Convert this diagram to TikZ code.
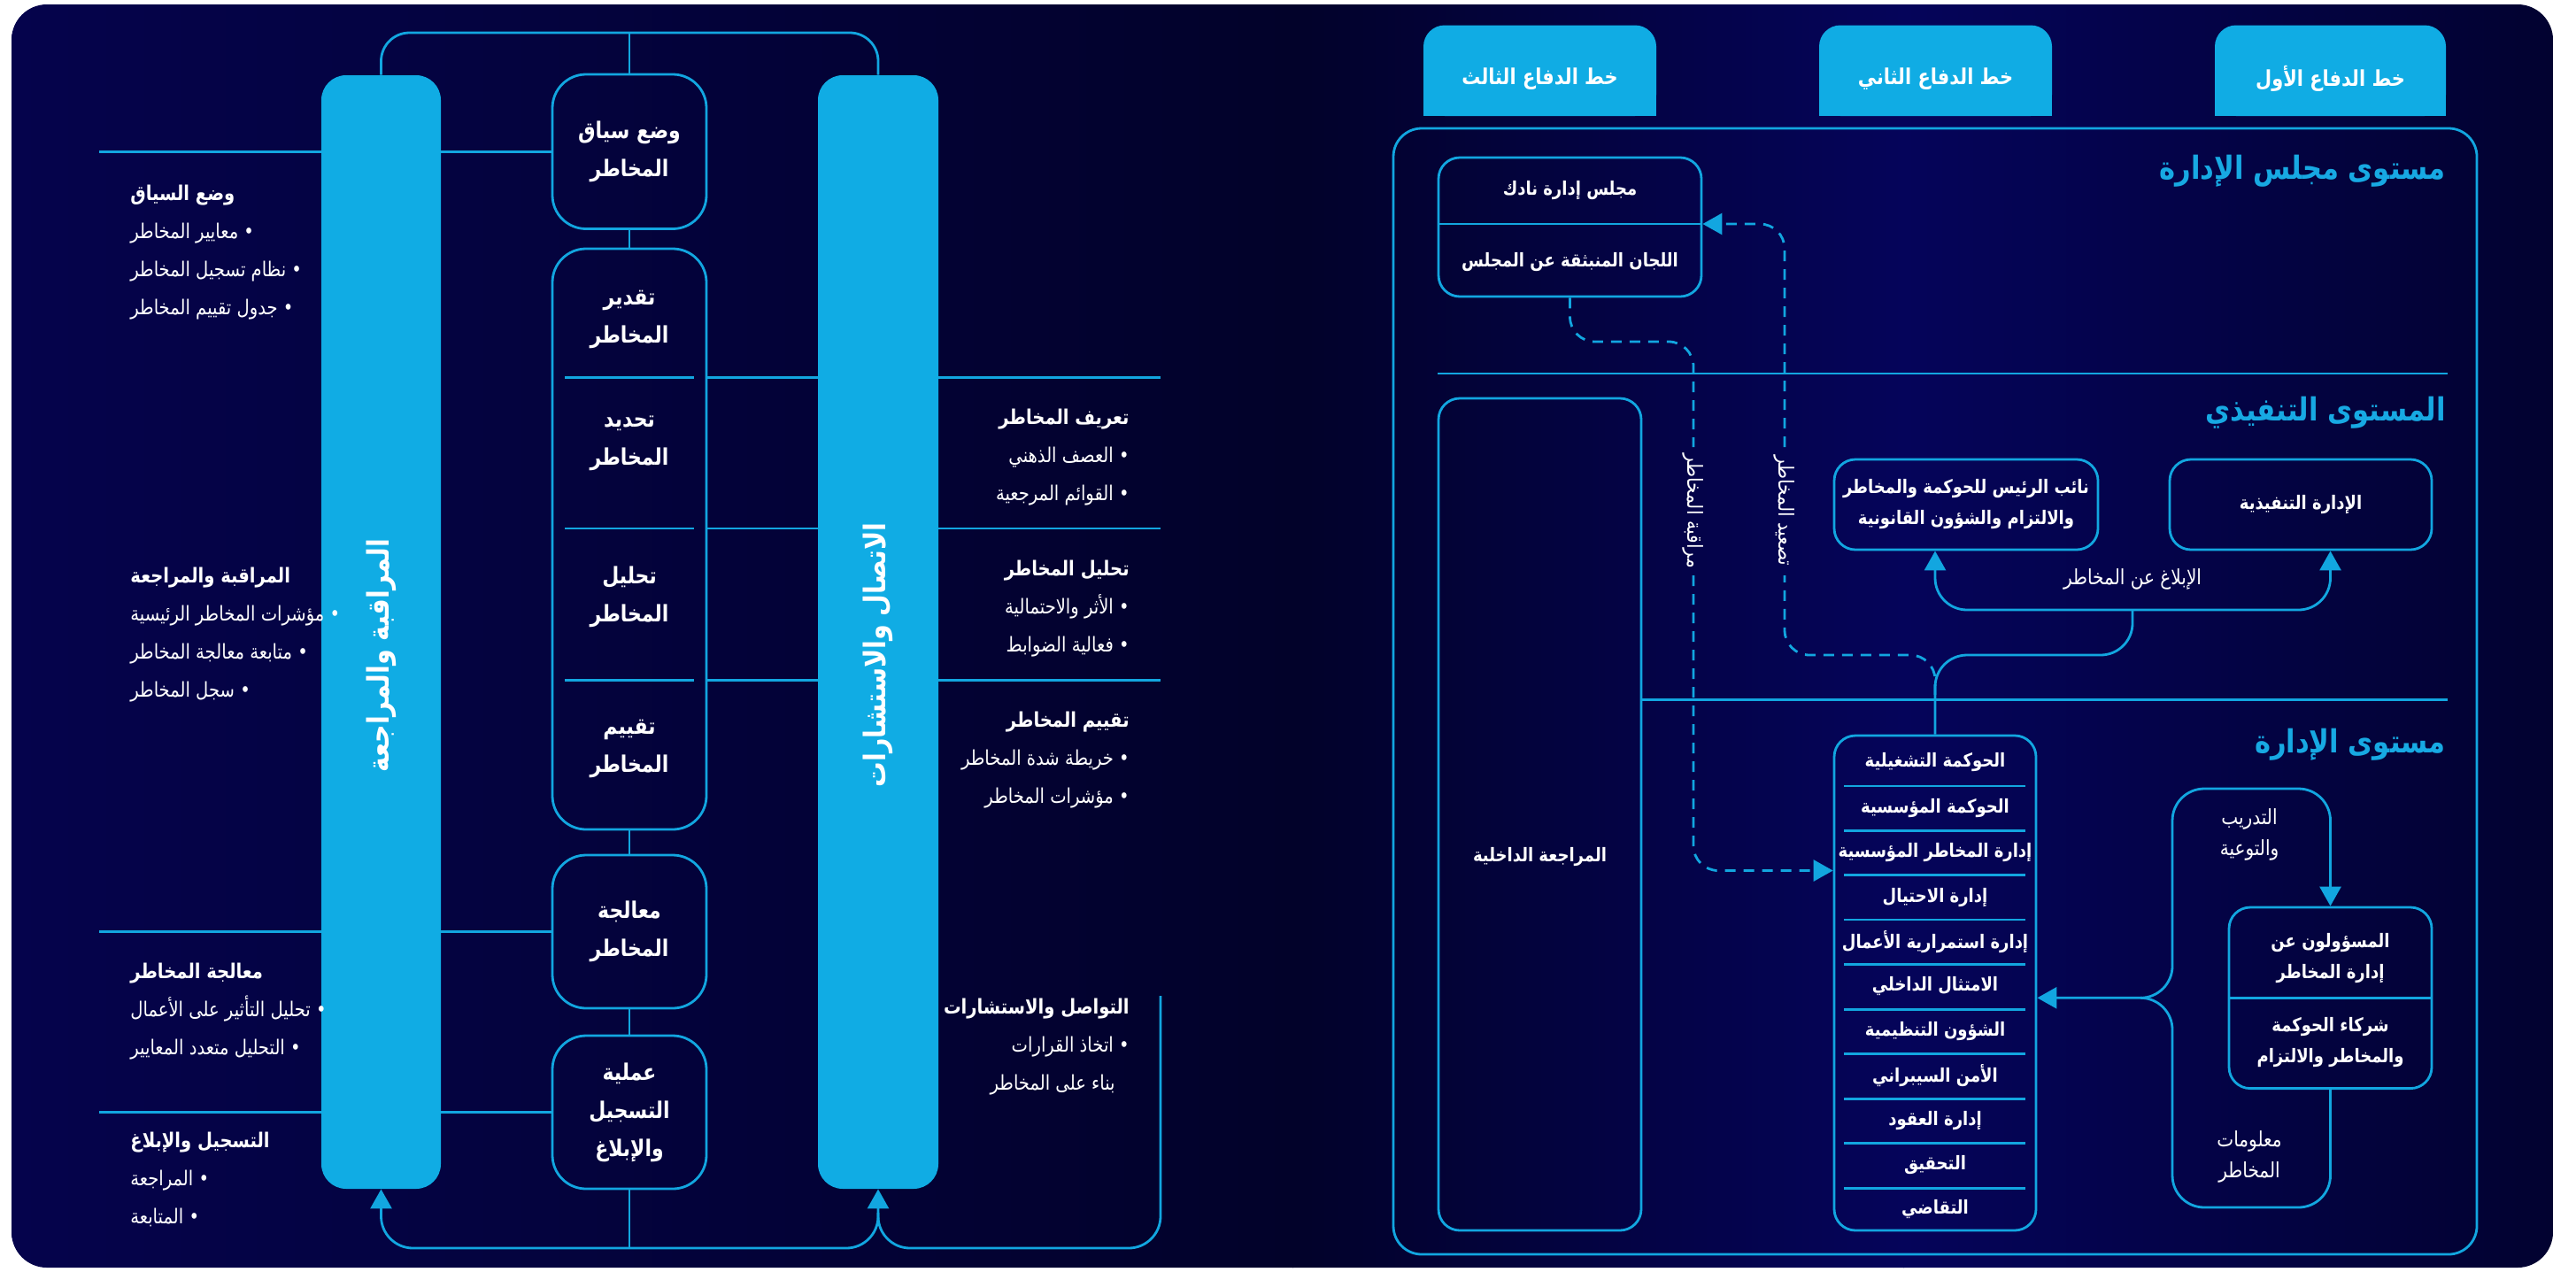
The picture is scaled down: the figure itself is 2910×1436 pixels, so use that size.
\documentclass[tikz,border=0pt]{standalone}
\usepackage{fontspec}
\usetikzlibrary{arrows.meta}
\newfontfamily\arabicfont[Script=Arabic,FakeStretch=0.85]{DejaVu Sans}
\TeXXeTstate=1
\newcommand{\AR}[1]{\beginR#1\endR}
\definecolor{lc}{HTML}{12A6E0}
\definecolor{barc}{HTML}{10ACE4}
\definecolor{ttl}{HTML}{17A9E3}
\definecolor{bgA}{HTML}{05034C}
\definecolor{bgB}{HTML}{02022A}
\definecolor{bgC}{HTML}{05045A}
\definecolor{bgD}{HTML}{020230}
\begin{document}
\begin{tikzpicture}[x=0.5pt,y=-0.5pt,
  conn/.style={draw=lc, line width=1.4pt},
  tipA/.style={-{Triangle[length=11pt,width=12pt]}},
  tipB/.style={{Triangle[length=11pt,width=12pt]}-{Triangle[length=11pt,width=12pt]}},
  dconn/.style={conn, dash pattern=on 6pt off 4.5pt},
  pbox/.style={draw=lc, line width=1.4pt, rounded corners=19pt, inner sep=0pt, text=white,
     font=\arabicfont\bfseries\fontsize{12.9}{21.5}\selectfont, align=center},
  ptxt/.style={text=white, font=\arabicfont\bfseries\fontsize{12.9}{21.5}\selectfont, align=center, inner sep=0pt},
  bar/.style={fill=barc, rounded corners=14pt, inner sep=0pt},
  bartxt/.style={text=white, font=\arabicfont\bfseries\fontsize{16.8}{20}\selectfont, rotate=90, inner sep=0pt},
  note/.style={text=white, font=\arabicfont\fontsize{11.5}{21.5}\selectfont, inner sep=0pt},
  noteL/.style={note, anchor=west, align=left},
  noteR/.style={note, anchor=east, align=right},
  hdr/.style={fill=barc, rounded corners=12pt, inner sep=0pt},
  hdrtxt/.style={text=white, font=\arabicfont\bfseries\fontsize{12.3}{15}\selectfont, inner sep=0pt},
  lvl/.style={text=ttl, font=\arabicfont\bfseries\fontsize{18}{20}\selectfont, anchor=east, inner sep=0pt},
  rbox/.style={draw=lc, line width=1.4pt, rounded corners=12pt, inner sep=0pt},
  itxt/.style={text=white, font=\arabicfont\bfseries\fontsize{10.6}{17.5}\selectfont, align=center, inner sep=0pt},
  rtxt/.style={text=white, font=\arabicfont\fontsize{11.8}{17.5}\selectfont, align=center, inner sep=0pt},
]
\useasboundingbox (0,0) rectangle (2910,1436);
\fill[white] (0,0) rectangle (2910,1436);
\begin{scope}
\clip[rounded corners=20pt] (13,5) rectangle (2884,1432);
\shade[left color=bgA, right color=bgB] (13,5) rectangle (1461,1432);
\shade[left color=bgB, right color=bgC] (1460,5) rectangle (2151,1432);
\shade[left color=bgC, right color=bgD] (2150,5) rectangle (2884,1432);
\end{scope}

% ================= LEFT HALF =================
\node[pbox, minimum width=87pt, minimum height=87.25pt] (b1) at (711,171.25) {\AR{وضع سياق}\\\AR{المخاطر}};
\node[pbox, minimum width=87pt, minimum height=328pt] (b2) at (711,609) {};
\node[pbox, minimum width=87pt, minimum height=86.5pt] (b3) at (711,1052.5) {\AR{معالجة}\\\AR{المخاطر}};
\node[pbox, minimum width=87pt, minimum height=86.5pt] (b4) at (711,1256.5) {\AR{عملية}\\\AR{التسجيل}\\\AR{والإبلاغ}};
\node[ptxt] (s1) at (711,360.5) {\AR{تقدير}\\\AR{المخاطر}};
\node[ptxt] (s2) at (711,500.5) {\AR{تحديد}\\\AR{المخاطر}};
\node[ptxt] (s3) at (711,674) {\AR{تحليل}\\\AR{المخاطر}};
\node[ptxt] (s4) at (711,846) {\AR{تقييم}\\\AR{المخاطر}};
\foreach \yy in {426.5,597,768.5} \draw[conn] (638,\yy) -- (784,\yy);

\coordinate (l1) at (112,171.25);
\coordinate (l2) at (112,1052.5);
\coordinate (l3) at (112,1256.5);
\draw[conn] (l1) -- (b1.west);
\draw[conn] (l2) -- (b3.west);
\draw[conn] (l3) -- (b4.west);
\coordinate (r1) at (1311,426.5);
\coordinate (r2) at (1311,597);
\coordinate (r3) at (1311,768.5);
\draw[conn] (b2.east |- r1) -- (r1);
\draw[conn] (b2.east |- r2) -- (r2);
\draw[conn] (b2.east |- r3) -- (r3);

\node[bar, minimum width=67.5pt, minimum height=629pt] (lbar) at (430.5,714) {};
\node[bar, minimum width=68pt, minimum height=629pt] (rbar) at (992,714) {};
\node[bartxt] (lbt) at (431,741) {\AR{المراقبة والمراجعة}};
\node[bartxt] (rbt) at (992,740) {\AR{الاتصال والاستشارات}};

\coordinate (topc) at (711,37);
\coordinate (bot) at (711,1410);
\coordinate (rv) at (1311,1125);
\draw[conn, rounded corners=16pt] (lbar.north) |- (topc) -| (rbar.north);
\draw[conn] (b1.north) -- (topc);
\draw[conn] (b1.south) -- (b2.north);
\draw[conn] (b2.south) -- (b3.north);
\draw[conn] (b3.south) -- (b4.north);
\draw[conn] (b4.south) -- (bot);
\draw[conn, rounded corners=18pt, tipB] (lbar.south) |- (bot) -| (rbar.south);
\draw[conn, rounded corners=18pt] (rv) |- (rbar.south |- bot) -- ++(0,-40);

\node[noteL] (n1) at (147,285.5) {{\bfseries\AR{وضع السياق}}\\\AR{• معايير المخاطر}\\\AR{• نظام تسجيل المخاطر}\\\AR{• جدول تقييم المخاطر}};
\node[noteL] (n2) at (147,717.5) {{\bfseries\AR{المراقبة والمراجعة}}\\\AR{• مؤشرات المخاطر الرئيسية}\\\AR{• متابعة معالجة المخاطر}\\\AR{• سجل المخاطر}};
\node[noteL] (n3) at (147,1143) {{\bfseries\AR{معالجة المخاطر}}\\\AR{• تحليل التأثير على الأعمال}\\\AR{• التحليل متعدد المعايير}};
\node[noteL] (n4) at (147,1332) {{\bfseries\AR{التسجيل والإبلاغ}}\\\AR{• المراجعة}\\\AR{• المتابعة}};
\node[noteR] (m1) at (1276,516.5) {{\bfseries\AR{تعريف المخاطر}}\\\AR{• العصف الذهني}\\\AR{• القوائم المرجعية}};
\node[noteR] (m2) at (1276,688) {{\bfseries\AR{تحليل المخاطر}}\\\AR{• الأثر والاحتمالية}\\\AR{• فعالية الضوابط}};
\node[noteR] (m3) at (1276,858.5) {{\bfseries\AR{تقييم المخاطر}}\\\AR{• خريطة شدة المخاطر}\\\AR{• مؤشرات المخاطر}};
\node[noteR] (m4) at (1276,1182.5) {{\bfseries\AR{التواصل والاستشارات}}\\\AR{• اتخاذ القرارات}\\\AR{\hspace*{8pt}بناء على المخاطر}};

% ================= RIGHT HALF =================
\fill[barc] (1608,80) rectangle (1871,131);
\fill[barc] (2055,80) rectangle (2318,131);
\fill[barc] (2502,80) rectangle (2763,131);
\node[hdr, minimum width=131.5pt, minimum height=51.25pt] (h1) at (1739.5,79.75) {};
\node[hdr, minimum width=131.5pt, minimum height=51.25pt] (h2) at (2186.5,79.75) {};
\node[hdr, minimum width=130.5pt, minimum height=51.25pt] (h3) at (2632.5,79.75) {};
\node[hdrtxt] (h1t) at (1739.5,89) {\AR{خط الدفاع الثالث}};
\node[hdrtxt] (h2t) at (2186.5,89) {\AR{خط الدفاع الثاني}};
\node[hdrtxt] (h3t) at (2632.5,89) {\AR{خط الدفاع الأول}};

\node[rbox, rounded corners=16pt, minimum width=612pt, minimum height=636pt] (frame) at (2186,781) {};
\node[lvl] (lv1) at (2763,193) {\AR{مستوى مجلس الإدارة}};
\node[lvl] (lv2) at (2763,466) {\AR{المستوى التنفيذي}};
\node[lvl] (lv3) at (2763,841) {\AR{مستوى الإدارة}};

\node[rbox, minimum width=148.5pt, minimum height=78.5pt] (board) at (1773.5,256.5) {};
\draw[conn] (1625,253) -- (1922,253);
\node[itxt] (bt1) at (1773.5,215) {\AR{مجلس إدارة نادك}};
\node[itxt] (bt2) at (1773.5,296) {\AR{اللجان المنبثقة عن المجلس}};

\draw[conn] (1624,422) -- (2765,422);

\node[rbox, minimum width=114.5pt, minimum height=470pt] (audit) at (1739.5,920) {};
\node[itxt] (audt) at (1739.5,968) {\AR{المراجعة الداخلية}};
\draw[conn] (audit.east |- 0,790.6) -- (2765,790.6);

\node[rbox, minimum width=149pt, minimum height=51pt] (vp) at (2221,570) {};
\node[itxt] (vpt) at (2221,570) {\AR{نائب الرئيس للحوكمة والمخاطر}\\\AR{والالتزام والشؤون القانونية}};
\node[rbox, minimum width=148pt, minimum height=51pt] (ex) at (2599,570) {};
\node[itxt] (ext) at (2599,570) {\AR{الإدارة التنفيذية}};

\node[rbox, minimum width=114pt, minimum height=279.5pt] (gov) at (2186,1110.5) {};
\foreach \yy/\t [count=\i] in {861/الحوكمة التشغيلية,912.7/الحوكمة المؤسسية,963/إدارة المخاطر المؤسسية,1013.6/إدارة الاحتيال,1063.8/إدارة استمرارية الأعمال,1114/الامتثال الداخلي,1164.8/الشؤون التنظيمية,1215/الأمن السيبراني,1265.7/إدارة العقود,1316/التحقيق,1365.7/التقاضي}
  \node[itxt] (gi\i) at (2186,\yy) {\AR{\t}};
\foreach \yy in {888,938.5,988.7,1039,1089.7,1140.4,1190.6,1241.3,1291.5,1342.3}
  \draw[conn] (2083,\yy) -- (2288,\yy);

\node[rbox, minimum width=114.5pt, minimum height=102.3pt] (resp) at (2632.5,1127.3) {};
\draw[conn] (2518,1127.3) -- (2747,1127.3);
\node[itxt] (rs1) at (2632.5,1083) {\AR{المسؤولون عن}\\\AR{إدارة المخاطر}};
\node[itxt] (rs2) at (2632.5,1178) {\AR{شركاء الحوكمة}\\\AR{والمخاطر والالتزام}};

% connectors right half
\coordinate (brk) at (2409,689);
\draw[conn, rounded corners=18pt, tipB] (vp.south -| gov.north) |- (brk) -| (ex.south -| resp.north);
\node[rtxt] (rep) at (2409,654) {\AR{الإبلاغ عن المخاطر}};
\draw[conn, rounded corners=18pt] (brk) |- (gov.north |- 0,740) -- (gov.north);

\draw[dconn, rounded corners=14pt] (2186,785) -- (2186,740) -- (2016,740) -- (2016,650);
\draw[dconn, rounded corners=14pt, tipA] (2016,505) -- (2016,253) -- (board.east |- 0,253);
\draw[dconn, rounded corners=14pt] (board.south) -- (1773.5,386) -- (1913,386) -- (1913,505);
\draw[dconn, rounded corners=14pt, tipA] (1913,650) -- (1913,983.5) -- (gov.west |- 0,983.5);
\node[rtxt, rotate=-90] (lm) at (1913,577) {\AR{مراقبة المخاطر}};
\node[rtxt, rotate=-90] (le) at (2016,577) {\AR{تصعيد المخاطر}};

\draw[conn, rounded corners=18pt, tipB] (gov.east |- resp) -- (2454,1127.3) -- (2454,891) -- (2632.5,891) -- (resp.north);
\draw[conn, rounded corners=18pt] (resp.south) -- (2632.5,1364) -- (2454,1364) -- (2454,1127.3) -- (2420,1127.3);
\node[rtxt] (tr) at (2541,943) {\AR{التدريب}\\\AR{والتوعية}};
\node[rtxt] (inf) at (2541,1307) {\AR{معلومات}\\\AR{المخاطر}};
\end{tikzpicture}
\end{document}
